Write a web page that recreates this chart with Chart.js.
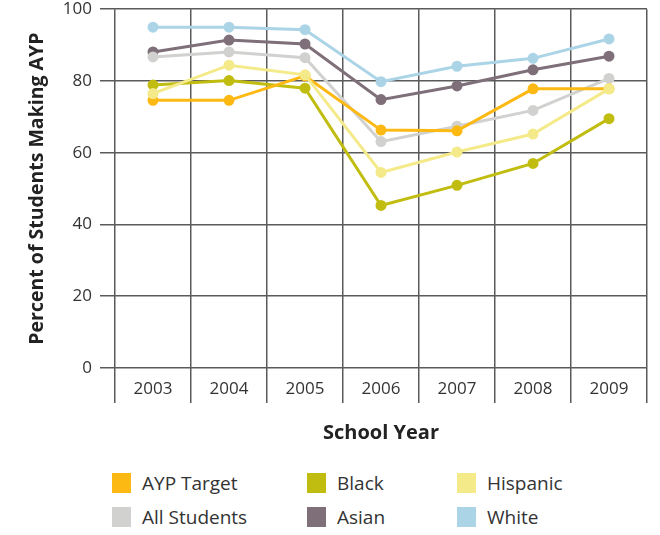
<!DOCTYPE html>
<html>
<head>
<meta charset="utf-8">
<script src="https://cdn.jsdelivr.net/npm/chart.js@4"></script>
<style>
    body { margin: 0; background: #fff; font-family: 'Open Sans', sans-serif; overflow: hidden; }
    #wrap { position: relative; width: 660px; height: 535px; overflow: hidden; }
    #chart-box { position: absolute; left: 0; top: -9px; width: 660px; height: 454px; }
    #legend { position: absolute; left: 112px; top: 472px; width: 540px; }
    .leg-item { position: absolute; height: 22px; display: flex; align-items: center; font-size: 19px; color: #333; white-space: nowrap; }
    .leg-box { width: 19px; height: 20px; margin-right: 11px; }
</style>
</head>
<body>
<div id="wrap">
    <div id="chart-box"><canvas id="aypChart"></canvas></div>
    <div id="legend"></div>
</div>
<script>
const years = ['2003', '2004', '2005', '2006', '2007', '2008', '2009'];
const aypTarget = [74.6, 74.6, 81.4, 66.3, 66.1, 77.8, 77.8];
const allStudents = [86.7, 88.1, 86.5, 63.1, 67.4, 71.8, 80.7];
const black = [78.9, 80.1, 78.0, 45.3, 50.9, 57.0, 69.5];
const asian = [88.1, 91.4, 90.3, 74.8, 78.6, 83.1, 86.9];
const hispanic = [76.5, 84.4, 81.7, 54.5, 60.2, 65.2, 77.8];
const white = [95.0, 95.0, 94.3, 79.8, 84.1, 86.3, 91.7];
const yTicks = [0, 20, 40, 60, 80, 100];

const series = [
    { label: 'AYP Target', data: aypTarget, color: '#fdb913', order: 2 },
    { label: 'All Students', data: allStudents, color: '#d1d1cf', order: 3 },
    { label: 'Black', data: black, color: '#c1bd10', order: 4 },
    { label: 'Asian', data: asian, color: '#7e6f79', order: 5 },
    { label: 'Hispanic', data: hispanic, color: '#f4ea8a', order: 1 },
    { label: 'White', data: white, color: '#abd4e6', order: 6 }
];

const gridColor = '#5a5a5a';

const ctx = document.getElementById('aypChart').getContext('2d');
new Chart(ctx, {
    type: 'line',
    data: {
        labels: years,
        datasets: series.map(s => ({
            label: s.label,
            data: s.data,
            borderColor: s.color,
            backgroundColor: s.color,
            pointBackgroundColor: s.color,
            pointBorderColor: s.color,
            borderWidth: 3,
            pointRadius: 4,
            tension: 0,
            order: s.order
        }))
    },
    options: {
        responsive: true,
        maintainAspectRatio: false,
        animation: false,
        layout: { padding: { top: 0, right: 13, left: 0, bottom: 0 } },
        plugins: {
            legend: { display: false },
            tooltip: { enabled: false }
        },
        scales: {
            x: {
                offset: true,
                afterFit: axis => { axis.height = 77; },
                grid: {
                    offset: true,
                    color: gridColor,
                    lineWidth: 1.5,
                    drawTicks: true,
                    tickLength: 35
                },
                border: { display: false },
                ticks: {
                    padding: -24,
                    color: '#333',
                    font: { family: 'Open Sans', size: 17 }
                },
                title: {
                    display: true,
                    text: 'School Year',
                    color: '#222',
                    font: { family: 'Open Sans', size: 20, weight: 'bold' },
                    padding: { top: 0, bottom: 0 }
                }
            },
            y: {
                min: 0,
                max: 100,
                afterFit: axis => { axis.width = 115; },
                afterBuildTicks: axis => { axis.ticks = yTicks.map(v => ({ value: v })); },
                grid: {
                    color: gridColor,
                    lineWidth: 1.5,
                    drawTicks: true,
                    tickLength: 15
                },
                border: { display: false },
                ticks: {
                    padding: 8,
                    color: '#333',
                    font: { family: 'Open Sans', size: 17 }
                },
                title: {
                    display: true,
                    text: 'Percent of Students Making AYP',
                    color: '#222',
                    font: { family: 'Open Sans', size: 19.5, weight: 'bold' },
                    padding: { top: 26, bottom: 0 }
                }
            }
        }
    }
});

// legend in three columns, two rows, as in the original figure
const legendOrder = ['AYP Target', 'Black', 'Hispanic', 'All Students', 'Asian', 'White'];
const colX = [0, 195, 345];
const rowY = [0, 34];
const legendEl = document.getElementById('legend');
legendOrder.forEach((name, i) => {
    const s = series.find(d => d.label === name);
    const item = document.createElement('div');
    item.className = 'leg-item';
    item.style.left = colX[i % 3] + 'px';
    item.style.top = rowY[Math.floor(i / 3)] + 'px';
    item.innerHTML = `<span class="leg-box" style="background:${s.color}"></span>${s.label}`;
    legendEl.appendChild(item);
});
</script>
</body>
</html>
